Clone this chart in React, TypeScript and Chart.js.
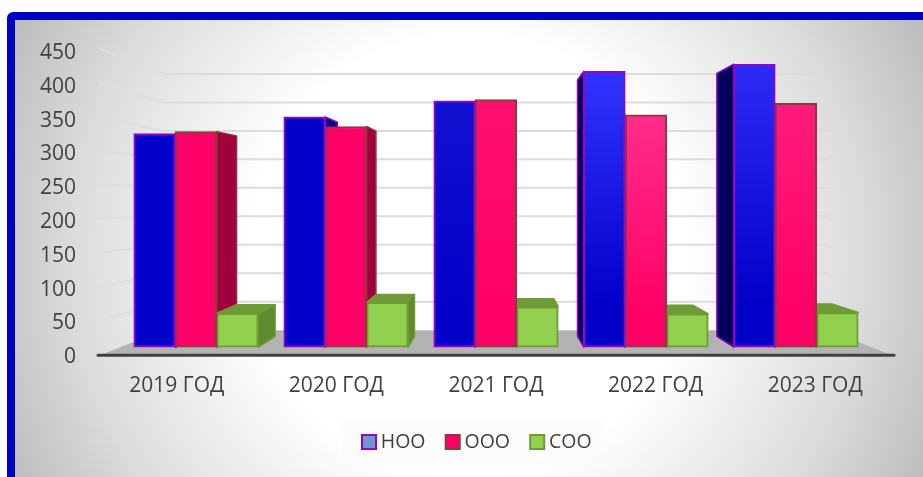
import React, { useEffect, useRef } from "react";
import { Chart, registerables } from "chart.js";

Chart.register(...registerables);

const categories = ["2019 ГОД", "2020 ГОД", "2021 ГОД", "2022 ГОД", "2023 ГОД"];
const noo = [333, 359, 384, 430, 441];
const ooo = [336, 344, 386, 362, 380];
const soo = [53, 70, 63, 52, 54];
const seriesNames = ["НОО", "ООО", "СОО"];
const yTickStep = 50;
const yTickMax = 450;

const FONT = "'Open Sans', 'Noto Sans', sans-serif";
const TEXT = "#404040";
const nooTop = ["#0000c8", "#0000c8", "#1212d2", "#3333ff", "#2c2cf6"];
const oooTop = ["#ff0066", "#ff0066", "#ff1070", "#ff2d8a", "#ff1c7a"];
const swatchFill = ["#6a9bcc", "#ff0066", "#92d050"];
const borders = ["#9900cc", "#8c3a3a", "#6f9a35"];
const sideFill = [
  ["#000090", "#00005a"],
  ["#a0003c", "#a0003c"],
  ["#5f8a2e", "#5f8a2e"],
];
const topFill = ["#00008c", "#a0003c", "#6e9b36"];

const PLOT = { left: 97, right: 895, top: 51, bottom: 354 };
const DEPTH = 0.929;
const WALL = { left: 163, right: 829 };

// hidden helper ranges: the plane the bars stand in, and the back wall
const barScale = 0.639;
const barZero = 346;
const wallScale = 0.567;
const wallZero = 329;
const frontScale = 0.68;
const barStep = 150;
const barWidth = 41.5;

const scene = {
  id: "scene",
  beforeDraw(chart: any) {
    const { ctx, width, height, scales } = chart;
    ctx.save();
    // frame
    ctx.fillStyle = "#ffffff";
    ctx.fillRect(0, 0, width, height);
    ctx.fillStyle = "#0000c8";
    ctx.beginPath();
    ctx.roundRect(7, 12, width, height, 6);
    ctx.fill();
    // panel
    const g = ctx.createRadialGradient(468, 255, 0, 468, 255, 525);
    g.addColorStop(0, "#ffffff");
    g.addColorStop(0.42, "#ffffff");
    g.addColorStop(0.75, "#dcdcdc");
    g.addColorStop(1, "#b8b8b8");
    ctx.fillStyle = g;
    ctx.fillRect(15, 20, width - 15, height - 20);
    // legend patch
    ctx.fillStyle = "rgba(250,250,250,0.6)";
    ctx.fillRect(342, 420, 262, 46);
    // floor
    const wallBase = scales.yWall.getPixelForValue(0);
    const front = scales.y.getPixelForValue(0);
    ctx.fillStyle = "#b3b3b3";
    ctx.beginPath();
    ctx.moveTo(PLOT.left + 3, front);
    ctx.lineTo(WALL.left, wallBase);
    ctx.lineTo(WALL.right, wallBase);
    ctx.lineTo(PLOT.right - 3, front);
    ctx.closePath();
    ctx.fill();
    // gridlines, left wall then back wall
    ctx.lineWidth = 2;
    for (let v = yTickStep; v <= yTickMax; v += yTickStep) {
      const wy = scales.yWall.getPixelForValue(v);
      ctx.strokeStyle = "#dedede";
      ctx.beginPath();
      ctx.moveTo(PLOT.left + 1, scales.yFront.getPixelForValue(v));
      ctx.lineTo(WALL.left, wy);
      ctx.stroke();
      ctx.strokeStyle = "#dcdcdc";
      ctx.beginPath();
      ctx.moveTo(WALL.left, wy);
      ctx.lineTo(WALL.right, wy);
      ctx.stroke();
    }
    // axis line
    ctx.strokeStyle = "#404040";
    ctx.lineWidth = 3;
    ctx.lineCap = "round";
    ctx.beginPath();
    ctx.moveTo(PLOT.left + 1, front);
    ctx.lineTo(PLOT.right - 1, front);
    ctx.stroke();
    ctx.restore();
  },
  beforeDatasetsDraw(chart: any) {
    const { ctx, chartArea, scales } = chart;
    const cx = (chartArea.left + chartArea.right) / 2 + 0;
    const vy = scales.yBar.getPixelForValue(240);
    const bx = (x: number) => cx + (x - cx) * DEPTH;
    const by = (y: number) => vy + (y - vy) * DEPTH;
    ctx.save();
    ctx.lineJoin = "round";
    ctx.lineWidth = 1.5;
    chart.data.datasets.forEach((_: any, d: number) => {
      chart.getDatasetMeta(d).data.forEach((bar: any) => {
        const l = bar.x - bar.width / 2;
        const r = bar.x + bar.width / 2;
        const t = bar.y;
        const b = bar.base;
        ctx.strokeStyle = borders[d];
        const side = (x: number, fill: string) => {
          ctx.fillStyle = fill;
          ctx.beginPath();
          ctx.moveTo(x, t);
          ctx.lineTo(bx(x), by(t));
          ctx.lineTo(bx(x), by(b));
          ctx.lineTo(x, b);
          ctx.closePath();
          ctx.fill();
          ctx.stroke();
        };
        if (bx(r) > r) side(r, sideFill[d][0]);
        if (bx(l) < l) side(l, sideFill[d][1]);
        if (by(t) < t) {
          ctx.fillStyle = topFill[d];
          ctx.beginPath();
          ctx.moveTo(l, t);
          ctx.lineTo(bx(l), by(t));
          ctx.lineTo(bx(r), by(t));
          ctx.lineTo(r, t);
          ctx.closePath();
          ctx.fill();
          ctx.stroke();
        }
      });
    });
    ctx.restore();
  },
  afterLayout(chart: any) {
    const lg = chart.legend;
    const pad = lg.options.labels.padding;
    lg.left = 361 - pad;
    lg.right = 700;
    lg.top = 433 - pad;
    lg.bottom = lg.top + lg.height;
  },
  afterDraw(chart: any) {
    const { ctx } = chart;
    const lg = chart.legend;
    const pad = lg.options.labels.padding;
    ctx.save();
    ctx.lineWidth = 2;
    let left = lg.left + pad;
    lg.legendHitBoxes.forEach((hit: any, i: number) => {
      const y = lg.top + pad + 2;
      ctx.fillStyle = swatchFill[i];
      ctx.strokeStyle = borders[i];
      ctx.fillRect(left + 1, y, 14, 14);
      ctx.strokeRect(left + 1, y, 14, 14);
      left += hit.width + pad;
    });
    ctx.restore();
  },
};

function shaded(tops: string[], bottom: string) {
  return (c: any) => {
    const { chart, dataIndex, parsed } = c;
    if (!chart.chartArea || !parsed) return bottom;
    const s = chart.scales.yBar;
    const g = chart.ctx.createLinearGradient(0, s.getPixelForValue(parsed.y), 0, s.getPixelForValue(0));
    g.addColorStop(0, tops[dataIndex]);
    g.addColorStop(0.85, bottom);
    return g;
  };
}

export default function App() {
  const ref = useRef<HTMLCanvasElement>(null);
  useEffect(() => {
    const series = [noo, ooo, soo];
    const fills = [shaded(nooTop, "#0000c8"), shaded(oooTop, "#ff0066"), "#92d050"];
    const h = PLOT.bottom - PLOT.top;
    const w = PLOT.right - PLOT.left;
    const chart = new Chart(ref.current as HTMLCanvasElement, {
      type: "bar",
      data: {
        labels: categories,
        datasets: series.map((vals, d) => ({
          label: seriesNames[d],
          data: vals.map((y, x) => ({ x, y })),
          xAxisID: "xBar",
          yAxisID: "yBar",
          backgroundColor: fills[d],
          borderColor: borders[d],
          borderWidth: 2,
          borderSkipped: false,
          barThickness: barWidth,
        })) as any,
      },
      plugins: [scene],
      options: {
        responsive: false,
        animation: false,
        events: [],
        layout: { padding: { left: 0, right: 923 - PLOT.right, top: PLOT.top, bottom: 23 } },
        plugins: {
          title: { display: false },
          tooltip: { enabled: false },
          legend: {
            display: true,
            position: "bottom",
            align: "start",
            labels: {
              color: TEXT,
              font: { family: FONT, size: 19.5 },
              boxWidth: 10,
              boxHeight: 14,
              padding: 19.25,
              generateLabels: () =>
                seriesNames.map((text, i) => ({
                  text,
                  fillStyle: "transparent",
                  strokeStyle: "transparent",
                  lineWidth: 0,
                  datasetIndex: i,
                  fontColor: TEXT,
                })),
            },
          },
        },
        scales: {
          x: {
            type: "category",
            position: "bottom",
            grid: { display: false },
            border: { display: false },
            ticks: { color: TEXT, font: { family: FONT, size: 21 }, padding: 10, maxRotation: 0 },
            afterFit: (a: any) => { a.height = 50; },
          },
          xBar: {
            type: "linear",
            axis: "x",
            position: "bottom",
            display: false,
            offset: false,
            min: 2 - w / 2 / barStep,
            max: 2 + w / 2 / barStep,
          },
          y: {
            type: "linear",
            position: "left",
            min: 0,
            max: yTickMax,
            grid: { display: false },
            border: { display: false },
            ticks: { color: TEXT, font: { family: FONT, size: 21 }, stepSize: yTickStep, padding: 13, labelOffset: 2 },
            afterFit: (a: any) => { a.width = PLOT.left; },
          },
          yBar: {
            type: "linear",
            axis: "y",
            position: "left",
            display: false,
            min: -(PLOT.bottom - barZero) / barScale,
            max: (barZero - PLOT.top) / barScale,
          },
          yWall: {
            type: "linear",
            axis: "y",
            position: "left",
            display: false,
            min: -(PLOT.bottom - wallZero) / wallScale,
            max: (wallZero - PLOT.top) / wallScale,
          },
          yFront: {
            type: "linear",
            axis: "y",
            position: "left",
            display: false,
            min: 0,
            max: h / frontScale,
          },
        },
      } as any,
    });
    return () => chart.destroy();
  }, []);
  return (
    <div style={{ position: "fixed", left: 0, top: 0, width: 923, height: 477 }}>
      <canvas ref={ref} width={923} height={477} style={{ display: "block" }} />
    </div>
  );
}
